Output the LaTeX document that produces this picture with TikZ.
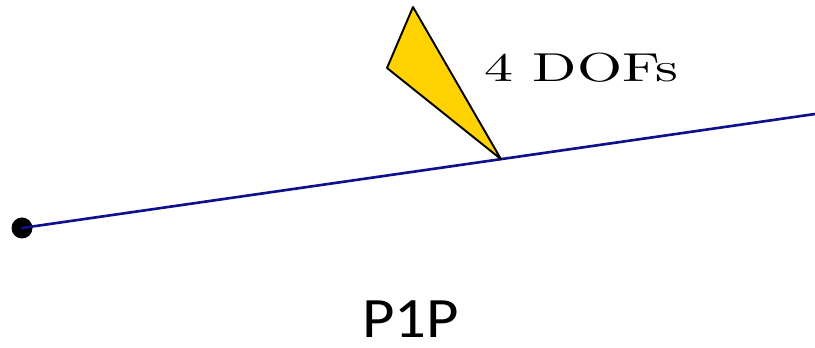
\documentclass[tikz,border=0pt]{standalone}
\usepackage{fontspec}
\newfontfamily\labelfont{Carlito}
\usetikzlibrary{calc,positioning}
\definecolor{rayblue}{HTML}{10108F}
\definecolor{wedgegold}{HTML}{FFD200}

\begin{document}
\begin{tikzpicture}[line cap=round, line join=round,
  every node/.style={inner sep=0pt}]
  \path[use as bounding box] (0,0) rectangle (16.3,6.96);
  % 1px = 0.02cm; y = 0.02(348 - row)
  \node[circle,fill=black,minimum size=0.42cm] (p) at (0.44,2.40) {};
  \coordinate (e) at (16.3,4.68);
  \coordinate (tip) at ($(p)!0.604!(e)$);
  \draw[rayblue,line width=1.5pt] (p.center) -- (e);
  \filldraw[fill=wedgegold,draw=black,line width=1.1pt]
    (tip) -- (8.26,6.82) -- (7.74,5.60) -- cycle;
  \node[anchor=base] (dofs) at (11.63,5.32)
    {\scalebox{3.3}[2.3]{4 DOFs}};
  \node[anchor=base,text depth=0pt] (name) at (8.21,0.2)
    {\scalebox{1.1}[1]{\fontsize{32.5}{39}\labelfont P1P}};
\end{tikzpicture}
\end{document}
